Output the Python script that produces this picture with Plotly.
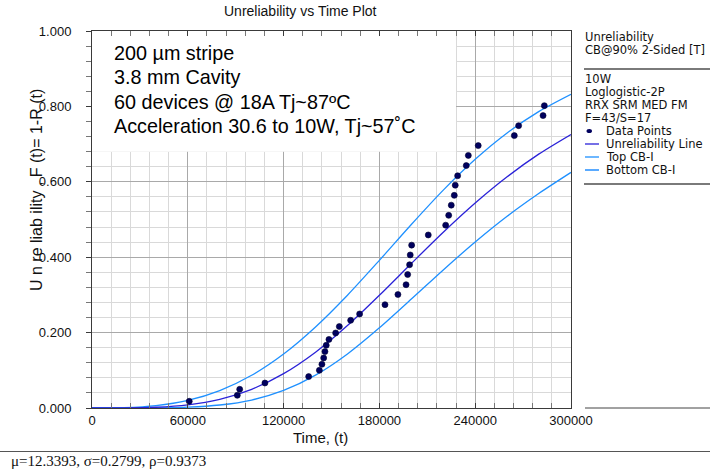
import plotly.graph_objects as go

# ---------------- data ----------------
curve_time = [0, 20000, 40000, 60000, 80000, 100000, 120000, 140000, 160000,
              180000, 200000, 220000, 240000, 260000, 280000, 300000]
unreliability_line = [0.0, 0.00017, 0.0020, 0.0084, 0.0230, 0.0496, 0.0911, 0.1480,
                      0.2187, 0.2990, 0.3833, 0.4662, 0.5437, 0.6133, 0.6740, 0.7256]
top_cb = [0.0, 0.0008, 0.0062, 0.0201, 0.0462, 0.0869, 0.1433, 0.2150,
          0.2992, 0.3917, 0.4868, 0.5779, 0.6597, 0.7296, 0.7868, 0.8323]
bottom_cb = [0.0, 0.00002, 0.0003, 0.0021, 0.0079, 0.0212, 0.0465, 0.0871,
             0.1434, 0.2127, 0.2890, 0.3663, 0.4403, 0.5085, 0.5695, 0.6250]

point_time = [60900, 91000, 92500, 108300, 135700, 142400, 144000, 145100, 145900,
              146700, 148400, 152600, 154900, 162000, 167600, 183500, 191600, 196700,
              197700, 198900, 199300, 200200, 210600, 221500, 223400, 225000, 226900,
              227500, 229000, 234400, 235700, 241900, 264500, 267200, 282500, 283300]
point_F = [0.0178, 0.0337, 0.0496, 0.0663, 0.0833, 0.1000, 0.1160, 0.1327, 0.1496,
           0.1663, 0.1820, 0.1990, 0.2160, 0.2326, 0.2494, 0.2740, 0.3010, 0.3270,
           0.3540, 0.3800, 0.4060, 0.4320, 0.4590, 0.4850, 0.5110, 0.5380, 0.5640,
           0.5910, 0.6160, 0.6430, 0.6700, 0.6960, 0.7225, 0.7490, 0.7756, 0.8020]

x_tick_vals = [0, 60000, 120000, 180000, 240000, 300000]
x_tick_text = ["0", "60000", "120000", "180000", "240000", "300000"]
y_tick_vals = [0.0, 0.2, 0.4, 0.6, 0.8, 1.0]
y_tick_text = ["0.000", "0.200", "0.400", "0.600", "0.800", "1.000"]

box_lines = ["200 µm stripe", "3.8 mm Cavity", "60 devices @ 18A Tj~87ºC",
             "Acceleration 30.6 to 10W, Tj~57˚C"]
panel_header = ["Unreliability", "CB@90% 2-Sided [T]"]
panel_info = ["10W", "Loglogistic-2P", "RRX SRM MED FM", "F=43/S=17"]
legend_names = ["Data Points", "Unreliability Line", "Top CB-I", "Bottom CB-I"]
footer_text = "μ=12.3393, σ=0.2799, ρ=0.9373"

# ---------------- styling / layout ----------------
W, H = 710, 471
ML, MR, MT, MB = 92, 139, 31, 63
PW, PH = W - ML - MR, H - MT - MB

def px(xp):
    return (xp - ML) / PW

def py(yp):
    return (H - MB - yp) / PH

LINE_DARK = "#2a22d8"
LINE_LIGHT = "#1e90ff"
DOT = "#00005e"
SANS = "Liberation Sans, Arial, sans-serif"
PANEL = "DejaVu Sans, Verdana, sans-serif"

fig = go.Figure()
fig.add_trace(go.Scatter(x=curve_time, y=top_cb, mode="lines", name=legend_names[2],
                         line=dict(color=LINE_LIGHT, width=1.3, shape="spline", smoothing=0.8),
                         showlegend=False))
fig.add_trace(go.Scatter(x=curve_time, y=bottom_cb, mode="lines", name=legend_names[3],
                         line=dict(color=LINE_LIGHT, width=1.3, shape="spline", smoothing=0.8),
                         showlegend=False))
fig.add_trace(go.Scatter(x=curve_time, y=unreliability_line, mode="lines", name=legend_names[1],
                         line=dict(color=LINE_DARK, width=1.3, shape="spline", smoothing=0.8),
                         showlegend=False))
fig.add_trace(go.Scatter(x=point_time, y=point_F, mode="markers", name=legend_names[0],
                         marker=dict(color=DOT, size=6, line=dict(width=0.6, color="#000030")),
                         showlegend=False))

shapes = []
# white text box hiding grid
shapes.append(dict(type="rect", xref="x", yref="y", x0=0, x1=228000, y0=0.68, y1=1.0,
                   fillcolor="white", line=dict(width=0), layer="between"))
# right panel separators
shapes.append(dict(type="line", xref="paper", yref="paper", x0=px(584), x1=px(710),
                   y0=py(69), y1=py(69), line=dict(color="#7a7a7a", width=2)))
shapes.append(dict(type="line", xref="paper", yref="paper", x0=px(584), x1=px(710),
                   y0=py(184), y1=py(184), line=dict(color="#7a7a7a", width=2)))
# baseline extension and footer separator
shapes.append(dict(type="line", xref="paper", yref="paper", x0=px(585), x1=px(710),
                   y0=py(408), y1=py(408), line=dict(color="#444444", width=1)))
shapes.append(dict(type="line", xref="paper", yref="paper", x0=px(0), x1=px(710),
                   y0=py(451.5), y1=py(451.5), line=dict(color="#555555", width=1.2)))
# legend samples
leg_y = [131, 144, 157, 170]
shapes.append(dict(type="circle", xref="paper", yref="paper",
                   x0=px(586.5), x1=px(592), y0=py(leg_y[0] - 2), y1=py(leg_y[0] + 2),
                   fillcolor=DOT, line=dict(width=0)))
shapes.append(dict(type="line", xref="paper", yref="paper", x0=px(585), x1=px(599),
                   y0=py(leg_y[1]), y1=py(leg_y[1]), line=dict(color=LINE_DARK, width=1.3)))
shapes.append(dict(type="line", xref="paper", yref="paper", x0=px(585), x1=px(599),
                   y0=py(leg_y[2]), y1=py(leg_y[2]), line=dict(color=LINE_LIGHT, width=1.3)))
shapes.append(dict(type="line", xref="paper", yref="paper", x0=px(585), x1=px(599),
                   y0=py(leg_y[3]), y1=py(leg_y[3]), line=dict(color="#5aaaff", width=2)))

ann = []
# title
ann.append(dict(text="Unreliability vs Time Plot", xref="paper", yref="paper",
                x=px(300), y=py(11), xanchor="center", yanchor="middle", showarrow=False,
                font=dict(family=SANS, size=14, color="#111")))
# x title
ann.append(dict(text="Time, (t)", xref="paper", yref="paper",
                x=px(320), y=py(438), xanchor="center", yanchor="middle", showarrow=False,
                font=dict(family=SANS, size=15, color="#111")))
# y title
ann.append(dict(text="U n re liab ility , F (t)= 1-R (t)", xref="paper", yref="paper",
                x=px(36), y=py(190), xanchor="center", yanchor="middle", showarrow=False,
                textangle=-90, font=dict(family=SANS, size=16, color="#111")))
# box text
for t, yc in zip(box_lines, [53, 77.5, 102, 126.5]):
    ann.append(dict(text=t, xref="paper", yref="paper", x=px(112), y=py(yc),
                    xanchor="left", yanchor="middle", showarrow=False,
                    font=dict(family=SANS, size=19.8, color="#000")))
# right panel
for t, yc in zip(panel_header, [37, 50]):
    ann.append(dict(text=t, xref="paper", yref="paper", x=px(583), y=py(yc),
                    xanchor="left", yanchor="middle", showarrow=False,
                    font=dict(family=PANEL, size=11.5, color="#111")))
for t, yc in zip(panel_info, [79, 92, 105, 118]):
    ann.append(dict(text=t, xref="paper", yref="paper", x=px(583), y=py(yc),
                    xanchor="left", yanchor="middle", showarrow=False,
                    font=dict(family=PANEL, size=11.5, color="#111")))
for t, yc in zip(legend_names, leg_y):
    ann.append(dict(text=t, xref="paper", yref="paper", x=px(604), y=py(yc),
                    xanchor="left", yanchor="middle", showarrow=False,
                    font=dict(family=PANEL, size=11.5, color="#111")))
# footer
ann.append(dict(text=footer_text, xref="paper", yref="paper", x=px(9), y=py(461),
                xanchor="left", yanchor="middle", showarrow=False,
                font=dict(family="Liberation Serif, Times New Roman, serif", size=15, color="#111")))

fig.update_layout(
    width=W, height=H, autosize=False,
    margin=dict(l=ML, r=MR, t=MT, b=MB, pad=0),
    paper_bgcolor="white", plot_bgcolor="white",
    showlegend=False,
    shapes=shapes, annotations=ann,
    xaxis=dict(range=[0, 300000], tickvals=x_tick_vals, ticktext=x_tick_text,
               showgrid=True, gridcolor="#a9a9a9", gridwidth=1, zeroline=False,
               showline=True, linecolor="#3a3a3a", linewidth=1, mirror="ticks",
               ticks="inside", ticklen=5, tickcolor="#3a3a3a",
               minor=dict(dtick=12000, tick0=0, showgrid=True, gridcolor="#d9d9d9",
                          ticks="inside", ticklen=5, tickcolor="#777"),
               tickfont=dict(family=SANS, size=13, color="#111"), fixedrange=True),
    yaxis=dict(range=[0, 1.0], tickvals=y_tick_vals, ticktext=y_tick_text,
               showgrid=True, gridcolor="#a9a9a9", gridwidth=1, zeroline=False,
               showline=True, linecolor="#3a3a3a", linewidth=1, mirror=True,
               ticks="outside", ticklen=5, tickcolor="#3a3a3a",
               minor=dict(dtick=0.04, tick0=0, showgrid=True, gridcolor="#d9d9d9",
                          ticks="outside", ticklen=5, tickcolor="#777"),
               ticklabelstandoff=12,
               tickfont=dict(family=SANS, size=13, color="#111"), fixedrange=True),
)

fig.write_html("out.html")
